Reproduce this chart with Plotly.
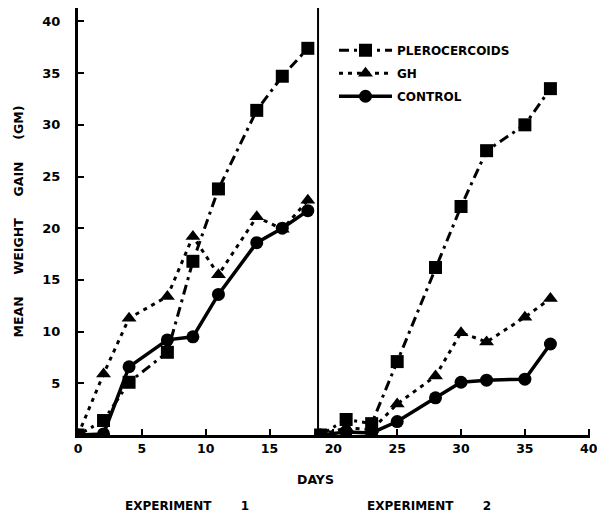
import plotly.graph_objects as go

# Experiment 1
days1 = [0, 2, 4, 7, 9, 11, 14, 16, 18]
pler1 = [0, 1.4, 5.1, 8.0, 16.8, 23.8, 31.4, 34.7, 37.4]
gh1 = [0, 5.9, 11.3, 13.4, 19.2, 15.5, 21.1, 19.9, 22.7]
ctrl1 = [0, 0.1, 6.6, 9.2, 9.5, 13.6, 18.6, 20.0, 21.7]

# Experiment 2
days2 = [19, 21, 23, 25, 28, 30, 32, 35, 37]
pler2 = [0, 1.5, 1.1, 7.1, 16.2, 22.1, 27.5, 30.0, 33.5]
gh2 = [0, 0.7, 0.5, 3.0, 5.7, 9.9, 9.0, 11.4, 13.2]
ctrl2 = [0, 0.3, 0.2, 1.3, 3.6, 5.1, 5.3, 5.4, 8.8]

x_ticks = [0, 5, 10, 15, 20, 25, 30, 35, 40]
y_ticks = [5, 10, 15, 20, 25, 30, 35, 40]
divider_day = 18.8

FONT = "DejaVu Sans"
series = [
    ("PLEROCERCOIDS", "square", "10px,5px,3px,5px", 13, pler1, pler2),
    ("GH", "triangle-up", "4px,5px", 13, gh1, gh2),
    ("CONTROL", "circle", "solid", 13, ctrl1, ctrl2),
]

fig = go.Figure()
for name, sym, dash, msize, s1, s2 in series:
    for i, (dx, dy) in enumerate([(days1, s1), (days2, s2)]):
        fig.add_trace(go.Scatter(
            x=dx, y=dy, mode="lines+markers", name=name,
            legendgroup=name, showlegend=(i == 0),
            line=dict(color="black", width=3.5 if dash == "solid" else 3, dash=dash),
            marker=dict(symbol=sym, size=msize, color="black"),
        ))

fig.add_shape(type="line", xref="x", yref="y", x0=divider_day, x1=divider_day,
              y0=0, y1=41.3, line=dict(color="black", width=2))

gap = "\u00a0" * 5
fig.update_layout(
    width=597, height=514,
    margin=dict(l=78, r=7, t=8, b=79),
    paper_bgcolor="white", plot_bgcolor="white",
    font=dict(family=FONT, color="black", size=11, weight="bold"),
    showlegend=True,
    legend=dict(x=0.50, y=0.935, xanchor="left", yanchor="top",
                bgcolor="rgba(0,0,0,0)", font=dict(size=12, weight="bold"),
                itemwidth=53, tracegroupgap=4),
    xaxis=dict(range=[0, 40.1], tickvals=x_ticks, ticktext=[str(v) for v in x_ticks],
               showgrid=False, zeroline=False, showline=True, linecolor="black",
               linewidth=3, ticks="inside", ticklen=6, tickwidth=2, tickcolor="black",
               tickfont=dict(size=12.5, weight="bold"), automargin=False,
               ticklabeloverflow="allow"),
    yaxis=dict(range=[0, 41.3], tickvals=y_ticks, ticktext=[str(v) for v in y_ticks],
               showgrid=False, zeroline=False, showline=True, linecolor="black",
               linewidth=3, ticks="inside", ticklen=6, tickwidth=2, tickcolor="black",
               tickfont=dict(size=13, weight="bold"), ticklabelstandoff=12, automargin=False,
               title=dict(text="MEAN" + gap + "WEIGHT" + gap + "GAIN" + gap + "(GM)",
                          font=dict(size=12.5, weight="bold"), standoff=16)),
)

fig.add_annotation(text="DAYS", x=18.6, y=480, xref="x", yref="paper", yanchor="middle",
                   showarrow=False, font=dict(size=12.5, weight="bold"))
fig.add_annotation(text="EXPERIMENT\u00a0\u00a0\u00a0\u00a0\u00a0\u00a0\u00a01", x=8.5, y=506, xref="x", yref="paper",
                   yanchor="middle", showarrow=False, font=dict(size=12, weight="bold"))
fig.add_annotation(text="EXPERIMENT\u00a0\u00a0\u00a0\u00a0\u00a0\u00a0\u00a02", x=27.5, y=506, xref="x", yref="paper",
                   yanchor="middle", showarrow=False, font=dict(size=12, weight="bold"))

# convert annotation pixel rows to paper coordinates
plot_top, plot_bottom = 8, 435
for ann in fig.layout.annotations:
    ann.y = (plot_bottom - ann.y) / (plot_bottom - plot_top)

fig.write_html("out.html", config={"displayModeBar": False},
               post_script="document.body.style.margin='0';")
